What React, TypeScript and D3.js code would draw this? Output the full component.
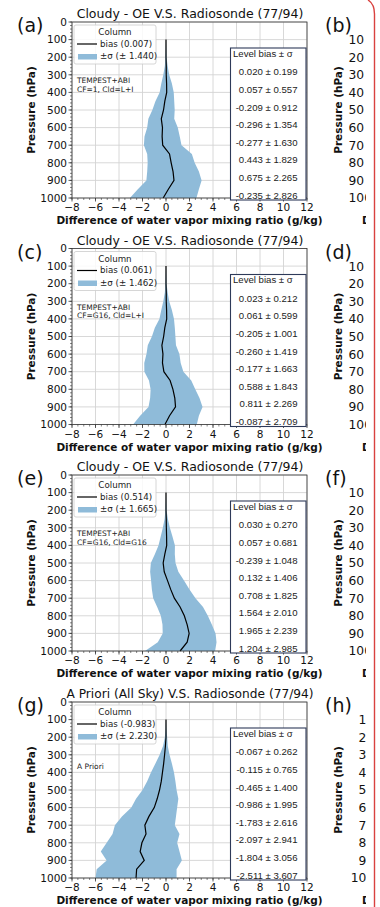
import React from 'react';
import * as d3 from 'd3';

// pressure levels of the profiles (hPa)
const pressures = [100, 150, 200, 250, 300, 350, 400, 450, 500, 550, 600, 650, 700, 750, 800, 850, 900, 950, 1000];
const levelPressures = [300, 400, 500, 600, 700, 800, 900, 1000];
const yTicks = [0, 100, 200, 300, 400, 500, 600, 700, 800, 900, 1000];
const xTicks = [-8, -6, -4, -2, 0, 2, 4, 6, 8, 10, 12];
const rightLabels = ['10', '20', '30', '40', '50', '60', '70', '80', '90', '100'];
const rightLabelsH = ['100', '200', '300', '400', '500', '600', '700', '800', '900', '1000'];

// (a) CF=1, Cld=L+I
const biasA = [0, 0, 0, 0.02, 0.02, 0.05, 0.06, -0.1, -0.21, -0.4, -0.3, -0.33, -0.28, 0.3, 0.44, 0.6, 0.68, 0.2, -0.24];
const sigmaA = [0, 0.02, 0.05, 0.12, 0.25, 0.45, 0.6, 0.8, 0.95, 1.1, 1.3, 1.5, 1.6, 1.9, 2.0, 2.2, 2.35, 2.6, 2.83];
const levelBiasA = [0.020, 0.057, -0.209, -0.296, -0.277, 0.443, 0.675, -0.235];
const levelSigmaA = [0.199, 0.557, 0.912, 1.354, 1.630, 1.829, 2.265, 2.826];

// (c) CF=G16, Cld=L+I
const biasC = [0, 0, 0, 0.02, 0.02, 0.05, 0.06, -0.1, -0.2, -0.35, -0.26, -0.3, -0.18, 0.35, 0.59, 0.75, 0.81, 0.3, -0.09];
const sigmaC = [0, 0.02, 0.05, 0.12, 0.25, 0.45, 0.62, 0.85, 1.0, 1.2, 1.4, 1.55, 1.66, 1.8, 1.9, 2.1, 2.3, 2.5, 2.71];
const levelBiasC = [0.023, 0.061, -0.205, -0.260, -0.177, 0.588, 0.811, -0.087];
const levelSigmaC = [0.212, 0.599, 1.001, 1.419, 1.663, 1.843, 2.269, 2.709];

// (e) CF=G16, Cld=G16
const biasE = [0, 0, 0, 0.02, 0.03, 0.05, 0.06, -0.1, -0.24, -0.15, 0.13, 0.4, 0.71, 1.2, 1.56, 1.8, 1.97, 1.8, 1.2];
const sigmaE = [0, 0.02, 0.05, 0.14, 0.3, 0.5, 0.7, 0.85, 1.05, 1.2, 1.4, 1.6, 1.8, 1.95, 2.0, 2.1, 2.25, 2.5, 2.98];
const levelBiasE = [0.030, 0.057, -0.239, 0.132, 0.708, 1.564, 1.965, 1.204];
const levelSigmaE = [0.270, 0.681, 1.048, 1.406, 1.825, 2.010, 2.239, 2.985];

// (g) a priori
const biasG = [0, 0, 0, -0.05, -0.12, -0.2, -0.3, -0.4, -0.55, -0.75, -1.0, -1.45, -1.8, -1.7, -2.05, -2.2, -1.85, -2.5, -2.55];
const sigmaG = [0, 0.03, 0.1, 0.2, 0.42, 0.7, 0.98, 1.2, 1.45, 1.8, 1.95, 2.3, 2.55, 2.85, 3.0, 3.35, 3.2, 3.4, 3.45];
const levelBiasG = [-0.067, -0.115, -0.465, -0.986, -1.783, -2.097, -1.804, -2.511];
const levelSigmaG = [0.262, 0.765, 1.400, 1.995, 2.616, 2.941, 3.056, 3.607];

const columnBias = [0.007, 0.061, 0.514, -0.983];
const columnSigma = [1.440, 1.462, 1.665, 2.230];

const panels = [
  { id: 'a', right: 'b', top: 0, title: 'Cloudy - OE V.S. Radiosonde (77/94)', note: ['TEMPEST+ABI', 'CF=1, Cld=L+I'], bias: biasA, sigma: sigmaA, lb: levelBiasA, ls: levelSigmaA },
  { id: 'c', right: 'd', top: 226.5, title: 'Cloudy - OE V.S. Radiosonde (77/94)', note: ['TEMPEST+ABI', 'CF=G16, Cld=L+I'], bias: biasC, sigma: sigmaC, lb: levelBiasC, ls: levelSigmaC },
  { id: 'e', right: 'f', top: 453, title: 'Cloudy - OE V.S. Radiosonde (77/94)', note: ['TEMPEST+ABI', 'CF=G16, Cld=G16'], bias: biasE, sigma: sigmaE, lb: levelBiasE, ls: levelSigmaE },
  { id: 'g', right: 'h', top: 680, title: 'A Priori (All Sky) V.S. Radiosonde (77/94)', note: ['', 'A Priori'], bias: biasG, sigma: sigmaG, lb: levelBiasG, ls: levelSigmaG },
];

const x = d3.scaleLinear().domain([-8, 12]).range([72, 307]);
const y = d3.scaleLinear().domain([0, 1000]).range([22, 198]);

const mpl = 'DejaVu Sans';
const arial = 'Liberation Sans';
const fmt = (v: number) => (v < 0 ? '\u2212' : '') + Math.abs(v);
// plain hyphen for the numbers written in the text boxes
const f3 = (v: number) => d3.format('.3f')(v).replace('\u2212', '-');

function Panel({ p, i }: { p: any; i: number }) {
  const idx = pressures.map((_, k) => k);
  const area = d3.area<number>()
    .y((k) => y(pressures[k]))
    .x0((k) => x(p.bias[k] - p.sigma[k]))
    .x1((k) => x(p.bias[k] + p.sigma[k]));
  const line = d3.line<number>()
    .x((k) => x(p.bias[k]))
    .y((k) => y(pressures[k]));
  const minorY = d3.range(0, 1001, 20);
  const minorX = d3.range(-8, 12.01, 0.5);
  const isLast = p.id === 'g';
  return (
    <g transform={`translate(0,${p.top})`}>
      {/* grid */}
      {xTicks.map((t) => (
        <line key={'gx' + t} x1={x(t)} x2={x(t)} y1={y(0)} y2={y(1000)} stroke="#d4d4d4" strokeWidth={0.9} />
      ))}
      {yTicks.map((t) => (
        <line key={'gy' + t} x1={x(-8)} x2={x(12)} y1={y(t)} y2={y(t)} stroke="#d4d4d4" strokeWidth={0.9} />
      ))}
      <path d={area(idx) || ''} fill="#8fbbd9" />
      <path d={line(idx) || ''} fill="none" stroke="#000" strokeWidth={1.2} />
      <rect x={x(-8)} y={y(0)} width={x(12) - x(-8)} height={y(1000) - y(0)} fill="none" stroke="#333" strokeWidth={0.8} />
      {/* ticks */}
      {yTicks.map((t) => (
        <g key={'ty' + t}>
          <line x1={x(-8) - 3.5} x2={x(-8)} y1={y(t)} y2={y(t)} stroke="#333" strokeWidth={0.8} />
          <text x={x(-8) - 5} y={y(t)} dy="0.36em" textAnchor="end" fontFamily={mpl} fontSize={10.5} fill="#111">{t}</text>
        </g>
      ))}
      {minorY.map((t) => (
        <line key={'my' + t} x1={x(-8) - 2} x2={x(-8)} y1={y(t)} y2={y(t)} stroke="#333" strokeWidth={0.6} />
      ))}
      {minorX.map((t) => (
        <line key={'mx' + t} x1={x(t)} x2={x(t)} y1={y(1000)} y2={y(1000) + 2} stroke="#333" strokeWidth={0.6} />
      ))}
      {xTicks.map((t) => (
        <g key={'tx' + t}>
          <line x1={x(t)} x2={x(t)} y1={y(1000)} y2={y(1000) + 3.5} stroke="#333" strokeWidth={0.8} />
          <text x={x(t)} y={211} textAnchor="middle" fontFamily={mpl} fontSize={10.5} fill="#111">{fmt(t)}</text>
        </g>
      ))}
      <text x={189.5} y={224} textAnchor="middle" fontFamily={mpl} fontWeight="bold" fontSize={10.5} fill="#111">
        Difference of water vapor mixing ratio (g/kg)
      </text>
      <text transform="translate(35,110) rotate(-90)" textAnchor="middle" fontFamily={mpl} fontWeight="bold" fontSize={10.5} fill="#111">
        Pressure (hPa)
      </text>
      <text x={190} y={18} textAnchor="middle" fontFamily={mpl} fontSize={isLast ? 12.2 : 12.5} fill="#111">{p.title}</text>
      <text x={17} y={32} fontFamily={mpl} fontSize={19} fill="#111">({p.id})</text>
      {/* legend */}
      <rect x={74} y={25} width={82} height={39} rx={2} fill="#fff" fillOpacity={0.85} stroke="#ccc" strokeWidth={0.8} />
      <text x={115} y={35} textAnchor="middle" fontFamily={mpl} fontSize={8.7} fill="#222">Column</text>
      <line x1={77} x2={97} y1={44} y2={44} stroke="#000" strokeWidth={1.2} />
      <text x={100} y={46.5} fontFamily={mpl} fontSize={8.7} fill="#222">bias ({f3(columnBias[i])})</text>
      <rect x={78} y={54} width={19} height={5.5} fill="#8fbbd9" />
      <text x={100} y={59} fontFamily={mpl} fontSize={8.7} fill="#222">±σ (± {f3(columnSigma[i])})</text>
      <text x={77} y={isLast ? 79.5 : 83.3} fontFamily={mpl} fontSize={7.5} fill="#222">{p.note[0]}</text>
      <text x={77} y={isLast ? 88.5 : 91.8} fontFamily={mpl} fontSize={7.5} fill="#222">{p.note[1]}</text>
      {/* level table */}
      <rect x={230.5} y={48} width={75.5} height={152} fill="#fff" stroke="#2e3a59" strokeWidth={1.1} />
      <text x={233} y={56.5} fontFamily={arial} fontSize={9.6} fill="#222">Level bias ± σ</text>
      {levelPressures.map((lp, k) => (
        <text key={'lv' + lp} x={297.5} y={y(lp) + 0.5} textAnchor="end" fontFamily={arial} fontSize={9.6} fill="#222">
          {f3(p.lb[k])} ± {f3(p.ls[k])}
        </text>
      ))}
      {/* neighbouring panel, cut off by the page edge */}
      <g clipPath="url(#cutRight)">
        <text x={325} y={32} fontFamily={mpl} fontSize={19} fill="#111">({p.right})</text>
        <text transform="translate(342,110) rotate(-90)" textAnchor="middle" fontFamily={mpl} fontWeight="bold" fontSize={10.5} fill="#111">
          Pressure (hPa)
        </text>
        {(isLast ? rightLabelsH : rightLabels).map((t, k) => (
          <text key={'rl' + t} x={isLast ? 382 : 348.5} y={y((k + 1) * 100)} dy="0.36em" textAnchor={isLast ? 'end' : 'start'} fontFamily={mpl} fontSize={12.3} fill="#111">
            {t}
          </text>
        ))}
        <text x={362} y={224} fontFamily={mpl} fontWeight="bold" fontSize={10.5} fill="#111">Difference</text>
      </g>
    </g>
  );
}

export default function App() {
  const W = 380;
  const H = 907;
  return (
    <svg width={W} height={H} style={{ position: 'absolute', left: 0, top: 0, background: '#fff' }}>
      <defs>
        <clipPath id="cutRight">
          <rect x={300} y={-10} width={66} height={260} />
        </clipPath>
      </defs>
      <rect width={W} height={H} fill="#fff" />
      {panels.map((p, i) => (
        <Panel key={p.id} p={p} i={i} />
      ))}
      <path d="M368,0 Q374.5,4 374.5,14 L374.5,907" fill="none" stroke="#d9423f" strokeWidth={1.4} />
    </svg>
  );
}
